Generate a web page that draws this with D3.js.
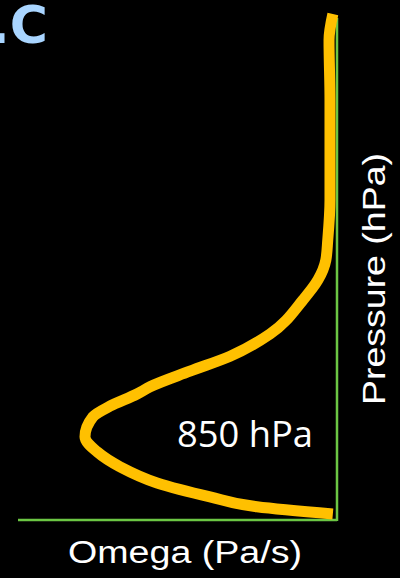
<!DOCTYPE html>
<html>
<head>
<meta charset="utf-8">
<script src="https://cdn.jsdelivr.net/npm/d3@7/dist/d3.min.js"></script>
<style>
  html, body { margin: 0; padding: 0; background: #000; }
  svg { display: block; }
</style>
</head>
<body>
<script>
// Omega profile (Pa/s) vs pressure (hPa)
const pressure = [100, 147, 255, 345, 435, 507, 543, 579, 615, 676, 716, 743, 771, 784, 806, 825, 861, 888, 915, 944, 969, 987, 1000];
const omega    = [-0.013, -0.025, -0.022, -0.022, -0.022, -0.029, -0.035, -0.060, -0.107, -0.210, -0.335, -0.461, -0.586, -0.627, -0.712, -0.765, -0.790, -0.752, -0.680, -0.564, -0.398, -0.251, -0.013];
const omegaDomain = [-1, 0];
const pressureDomain = [100, 1000];
const labelLevel = "850 hPa";
const xTitle = "Omega (Pa/s)";
const yTitle = "Pressure (hPa)";
const panelLabel = ".C";

const W = 400, H = 578;
const svg = d3.select("body").append("svg").attr("width", W).attr("height", H);
svg.append("rect").attr("width", W).attr("height", H).attr("fill", "#000");

const x = d3.scaleLinear().domain(omegaDomain).range([18, 337]);
const y = d3.scaleLinear().domain(pressureDomain).range([14, 514]);

// axes lines (green)
svg.append("line")
  .attr("x1", x(omegaDomain[0])).attr("x2", x(omegaDomain[1]))
  .attr("y1", 520).attr("y2", 520)
  .attr("stroke", "#6CC644").attr("stroke-width", 2.5);
svg.append("line")
  .attr("x1", x(0)).attr("x2", x(0))
  .attr("y1", 18).attr("y2", 521)
  .attr("stroke", "#6CC644").attr("stroke-width", 2.5);

const data = pressure.map((p, i) => ({p, w: omega[i]}));
const line = d3.line().x(d => x(d.w)).y(d => y(d.p)).curve(d3.curveMonotoneY);
svg.append("path").datum(data)
  .attr("d", line)
  .attr("fill", "none")
  .attr("stroke", "#FFC000")
  .attr("stroke-width", 11)
  .attr("stroke-linecap", "butt")
  .attr("stroke-linejoin", "round");

svg.append("text")
  .attr("x", 177).attr("y", 447)
  .attr("font-family", "'Open Sans', sans-serif")
  .attr("font-size", 37)
  .attr("fill", "#fff")
  .attr("textLength", 136).attr("lengthAdjust", "spacingAndGlyphs")
  .text(labelLevel);

svg.append("text")
  .attr("x", 68).attr("y", 563)
  .attr("font-family", "'Liberation Sans', Arial, sans-serif")
  .attr("font-size", 31)
  .attr("fill", "#fff")
  .attr("textLength", 234).attr("lengthAdjust", "spacingAndGlyphs")
  .text(xTitle);

svg.append("text")
  .attr("transform", "translate(385,405) rotate(-90)")
  .attr("font-family", "'Liberation Sans', Arial, sans-serif")
  .attr("font-size", 31)
  .attr("fill", "#fff")
  .attr("textLength", 252).attr("lengthAdjust", "spacingAndGlyphs")
  .text(yTitle);

svg.append("text")
  .attr("x", -10).attr("y", 43)
  .attr("font-family", "'DejaVu Sans', sans-serif")
  .attr("font-weight", "bold")
  .attr("font-size", 52)
  .attr("fill", "#A9D5FF")
  .text(panelLabel);
</script>
</body>
</html>
